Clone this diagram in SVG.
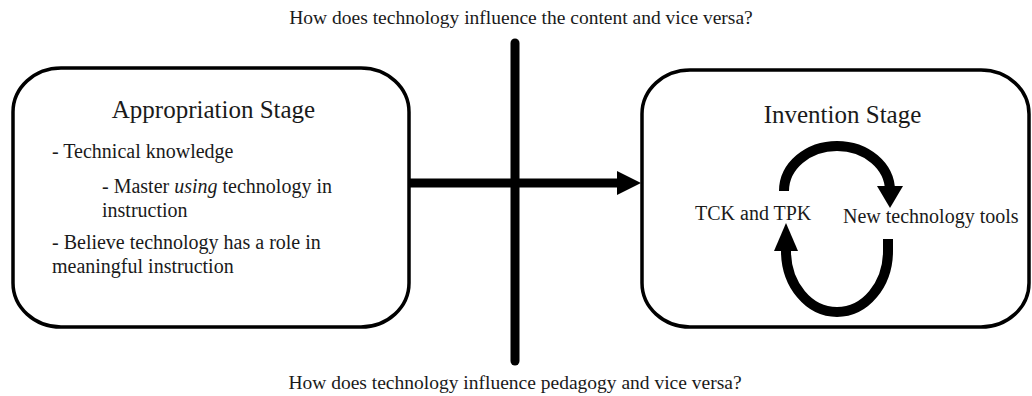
<svg xmlns="http://www.w3.org/2000/svg" width="1032" height="396" viewBox="0 0 1032 396">
<style>
text{font-family:"Liberation Serif","Times New Roman",serif;fill:#1a1a1a}
.q{font-size:19.5px}
.t{font-size:25px}
.b{font-size:20px}
.box{fill:#fff;stroke:#000;stroke-width:3.5}
.thick{fill:none;stroke:#000;stroke-width:9}
.arc{fill:none;stroke:#000;stroke-width:10}
</style>
<rect width="1032" height="396" fill="#fff"/>
<g id="question-top"><text class="q" x="521" y="24" text-anchor="middle">How does technology influence the content and vice versa?</text></g>
<g id="question-bottom"><text class="q" x="515" y="389" text-anchor="middle">How does technology influence pedagogy and vice versa?</text></g>
<g id="appropriation">
<rect class="box" x="13" y="68" width="396" height="259" rx="48" ry="44"/>
<text class="t" x="213.5" y="118" text-anchor="middle">Appropriation Stage</text>
<text class="b" x="52" y="158">- Technical knowledge</text>
<text class="b" x="102" y="193">- Master <tspan font-style="italic">using</tspan> technology in</text>
<text class="b" x="102" y="217">instruction</text>
<text class="b" x="52" y="249">- Believe technology has a role in</text>
<text class="b" x="52" y="273">meaningful instruction</text>
</g>
<g id="invention">
<rect class="box" x="642" y="70" width="387" height="257" rx="48" ry="44"/>
<text class="t" x="842.5" y="123" text-anchor="middle">Invention Stage</text>
<text class="b" x="695" y="220">TCK and TPK</text>
<text class="b" x="843" y="223">New technology tools</text>
<path class="arc" d="M784 191 A53 45 0 0 1 890 191"/>
<polygon points="877,186 903,186 890,208"/>
<path class="arc" d="M888 239 L888 251 A51 61 0 0 1 786 251"/>
<polygon points="774,251 798,251 786,223"/>
</g>
<g id="connectors">
<line class="thick" x1="515" y1="43" x2="515" y2="361" stroke-linecap="round"/>
<line class="thick" x1="409" y1="183" x2="620" y2="183"/>
<polygon points="617,171 641,183 617,195"/>
</g>
</svg>
